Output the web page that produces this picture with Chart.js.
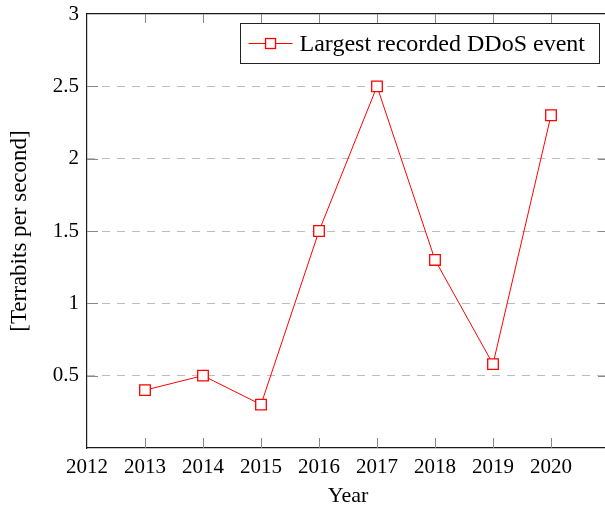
<!DOCTYPE html>
<html><head><meta charset="utf-8">
<script src="https://cdn.jsdelivr.net/npm/chart.js@4/dist/chart.umd.min.js"></script>
<style>
html,body{margin:0;padding:0;background:#fff;overflow:hidden;width:605px;height:508px;}
#wrap{position:absolute;left:0;top:0;width:620px;height:508px;}
</style></head><body>
<div id="wrap"><canvas id="c"></canvas></div>
<script>
const years = [2013, 2014, 2015, 2016, 2017, 2018, 2019, 2020];
const terabits = [0.4, 0.5, 0.3, 1.5, 2.5, 1.3, 0.58, 2.3];
const seriesLabel = 'Largest recorded DDoS event';
const xTitle = 'Year';
const yTitle = '[Terrabits per second]';
const xRange = [2012, 2021];
const yRange = [0, 3];

const FONT = '"Liberation Serif", "Times New Roman", serif';
const RED = '#ff0000';
const AXIS = '#1a1a1a';
const TICK = '#888888';

const innerTicks = {
  id: 'innerTicks',
  afterDatasetsDraw(chart) {
    const ctx = chart.ctx, ca = chart.chartArea;
    const xs = chart.scales.x, ys = chart.scales.y;
    ctx.save();
    ctx.strokeStyle = TICK;
    ctx.lineWidth = 1;
    ctx.beginPath();
    xs.ticks.forEach(t => {
      const px = Math.round(xs.getPixelForValue(t.value)) + 0.5;
      if (px <= ca.left + 1 || px >= ca.right - 1) return;
      ctx.moveTo(px, ca.bottom); ctx.lineTo(px, ca.bottom - 10);
      ctx.moveTo(px, ca.top); ctx.lineTo(px, ca.top + 9);
    });
    ys.ticks.forEach(t => {
      const py = Math.round(ys.getPixelForValue(t.value)) + 0.5;
      if (py <= ca.top + 1 || py >= ca.bottom - 1) return;
      ctx.moveTo(ca.left, py); ctx.lineTo(ca.left + 11, py);
      ctx.moveTo(ca.right, py); ctx.lineTo(ca.right - 11, py);
    });
    ctx.stroke();
    ctx.restore();
  }
};

const boxLegend = {
  id: 'boxLegend',
  afterDraw(chart) {
    const ctx = chart.ctx, ca = chart.chartArea;
    const ds = chart.data.datasets[0];
    ctx.save();
    ctx.font = '24px ' + FONT;
    const tw = ctx.measureText(ds.label).width;
    const right = ca.right - 10, top = ca.top + 9, h = 40;
    const left = right - (14 + tw + 7 + 44 + 9);
    ctx.fillStyle = '#fff';
    ctx.fillRect(left, top, right - left, h);
    ctx.strokeStyle = '#222';
    ctx.lineWidth = 1;
    ctx.strokeRect(Math.round(left) + 0.5, top + 0.5, Math.round(right - left), h);
    const cy = top + 20.5;
    ctx.strokeStyle = ds.borderColor;
    ctx.lineWidth = 1;
    ctx.beginPath();
    ctx.moveTo(left + 9, cy); ctx.lineTo(left + 53, cy);
    ctx.stroke();
    ctx.fillStyle = '#fff';
    ctx.fillRect(left + 26, cy - 5, 10, 10);
    ctx.lineWidth = 1.3;
    ctx.strokeRect(left + 26, cy - 5, 10, 10);
    ctx.fillStyle = '#000';
    ctx.textBaseline = 'alphabetic';
    ctx.textAlign = 'left';
    ctx.fillText(ds.label, left + 60, top + 28);
    ctx.restore();
  }
};

new Chart(document.getElementById('c'), {
  type: 'line',
  data: {
    datasets: [{
      label: seriesLabel,
      data: years.map((y, i) => ({ x: y, y: terabits[i] })),
      borderColor: RED,
      borderWidth: 1,
      tension: 0,
      pointStyle: 'rect',
      pointRadius: 7.5,
      pointHoverRadius: 7.5,
      pointBorderWidth: 1.3,
      pointBackgroundColor: '#fff',
      pointBorderColor: RED
    }]
  },
  options: {
    responsive: true,
    maintainAspectRatio: false,
    animation: false,
    devicePixelRatio: 1,
    layout: { padding: { left: 0, top: 14, right: 11, bottom: 0 } },
    plugins: { legend: { display: false }, tooltip: { enabled: false } },
    scales: {
      x: {
        type: 'linear', position: 'bottom',
        min: xRange[0], max: xRange[1],
        afterFit(s) { s.height = 60; s.paddingLeft = 0; s.paddingRight = 0; },
        ticks: {
          stepSize: 1, padding: 7, color: '#000',
          font: { family: FONT, size: 21 },
          maxRotation: 0, autoSkip: false,
          callback: v => (v === xRange[1] ? '' : String(v))
        },
        grid: { drawOnChartArea: false, drawTicks: false },
        border: { display: true, color: AXIS, width: 1.2 },
        title: {
          display: true, text: xTitle, color: '#000',
          font: { family: FONT, size: 22, lineHeight: 1 },
          padding: { top: 0, bottom: 1 }
        }
      },
      xTop: {
        type: 'linear', position: 'top',
        min: xRange[0], max: xRange[1],
        afterFit(s) { s.height = 0; s.paddingLeft = 0; s.paddingRight = 0; },
        ticks: { display: false },
        grid: { drawOnChartArea: false, drawTicks: false },
        border: { display: true, color: AXIS, width: 1.2 }
      },
      y: {
        type: 'linear', position: 'left',
        min: yRange[0], max: yRange[1],
        afterFit(s) { s.width = 87; s.paddingTop = 0; s.paddingBottom = 0; },
        ticks: {
          stepSize: 0.5, padding: 8, color: '#000',
          font: { family: FONT, size: 21 },
          callback: v => (v === 0 ? '' : String(v))
        },
        grid: { drawOnChartArea: false, drawTicks: false },
        border: { display: true, color: AXIS, width: 1.2 },
        title: {
          display: true, text: yTitle, color: '#000',
          font: { family: FONT, size: 23, lineHeight: 1 },
          padding: { top: 8, bottom: 0 }
        }
      },
      yRight: {
        type: 'linear', position: 'right',
        min: yRange[0], max: yRange[1],
        afterFit(s) { s.width = 0; s.paddingTop = 0; s.paddingBottom = 0; },
        ticks: { display: false, stepSize: 0.5 },
        grid: {
          drawOnChartArea: true, drawTicks: false,
          color: c => (c.tick && (c.tick.value === 0 || c.tick.value === 3) ? 'rgba(0,0,0,0)' : '#bdbdbd'),
          lineWidth: 1
        },
        border: { display: false, dash: [8, 7] }
      }
    }
  },
  plugins: [innerTicks, boxLegend]
});
</script>
</body></html>
